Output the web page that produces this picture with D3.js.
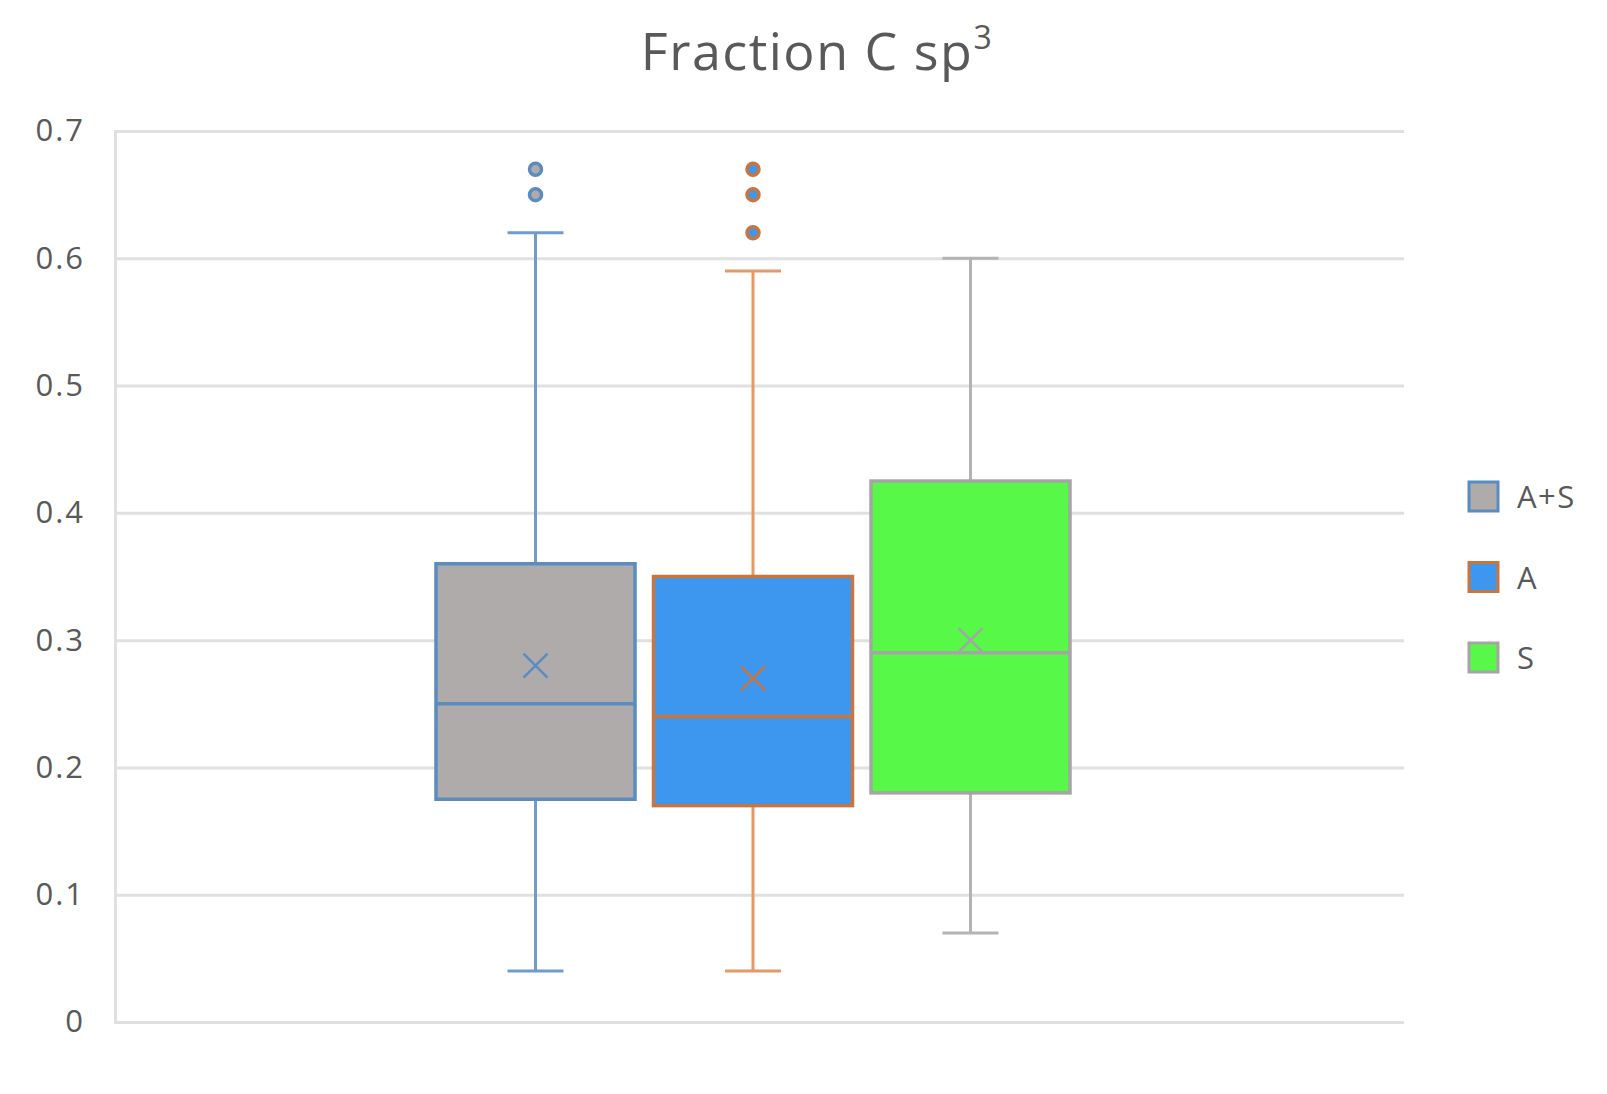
<!DOCTYPE html>
<html>
<head>
<meta charset="utf-8">
<title>Fraction C sp3</title>
<script src="https://d3js.org/d3.v7.min.js"></script>
<style>
  body { margin: 0; background: #fff; }
  text { font-family: "Open Sans", "Noto Sans", sans-serif; fill: #595959; }
</style>
</head>
<body>
<script>
// data
const series = ["A+S", "A", "S"];
const whiskerLow = [0.04, 0.04, 0.07];
const q1 = [0.175, 0.17, 0.18];
const median = [0.25, 0.24, 0.29];
const q3 = [0.36, 0.35, 0.425];
const whiskerHigh = [0.62, 0.59, 0.60];
const means = [0.28, 0.27, 0.30];
const outliers = [[0.67, 0.65], [0.67, 0.65, 0.62], []];
const yTicks = [0, 0.1, 0.2, 0.3, 0.4, 0.5, 0.6, 0.7];

const fills = ["#afabab", "#3d97ef", "#57f847"];
const strokes = ["#5b8cc0", "#c8753f", "#a5a5a5"];
const whiskerColors = ["#6f9dcb", "#e39a68", "#b3b3b3"];

const w = 1607, h = 1094;
const plotLeft = 115, plotRight = 1404, plotTop = 131, plotBottom = 1022;

const svg = d3.select("body").append("svg")
  .attr("width", w)
  .attr("height", h);

const y = d3.scaleLinear().domain([0, 0.7]).range([plotBottom, plotTop]);
const x = d3.scaleBand().domain(series).range([436, 1070]).paddingInner(0.085);

// title
const title = svg.append("text")
  .attr("x", 817)
  .attr("y", 70)
  .attr("text-anchor", "middle")
  .style("font-size", "52px")
  .style("letter-spacing", "1.5px");
title.append("tspan").text("Fraction C sp");
title.append("tspan").text("3").attr("dy", -21).style("font-size", "32px");

// grid
const yAxis = d3.axisLeft(y).tickValues(yTicks).tickSize(-(plotRight - plotLeft)).tickPadding(30)
  .tickFormat(d => d === 0 ? "0" : d3.format(".1f")(d));
const g = svg.append("g").attr("transform", "translate(" + plotLeft + ",0)").call(yAxis);
g.select(".domain").attr("stroke", "#e0e0e0").attr("stroke-width", 3);
g.selectAll(".tick line").attr("stroke", "#e0e0e0").attr("stroke-width", 3);
g.selectAll(".tick text").style("font-size", "31px").style("letter-spacing", "2px").attr("fill", "#595959");

const boxes = series.map((s, i) => ({
  s, i, lo: whiskerLow[i], q1: q1[i], med: median[i], q3: q3[i], hi: whiskerHigh[i], mean: means[i], out: outliers[i]
}));

const bw = x.bandwidth();
const grp = svg.selectAll(".box").data(boxes).enter().append("g").attr("class", "box");

// whiskers
grp.append("line")
  .attr("x1", d => x(d.s) + bw / 2).attr("x2", d => x(d.s) + bw / 2)
  .attr("y1", d => y(d.hi)).attr("y2", d => y(d.q3))
  .attr("stroke", d => whiskerColors[d.i]).attr("stroke-width", 3);
grp.append("line")
  .attr("x1", d => x(d.s) + bw / 2).attr("x2", d => x(d.s) + bw / 2)
  .attr("y1", d => y(d.q1)).attr("y2", d => y(d.lo))
  .attr("stroke", d => whiskerColors[d.i]).attr("stroke-width", 3);
grp.append("line")
  .attr("x1", d => x(d.s) + bw / 2 - 28).attr("x2", d => x(d.s) + bw / 2 + 28)
  .attr("y1", d => y(d.hi)).attr("y2", d => y(d.hi))
  .attr("stroke", d => whiskerColors[d.i]).attr("stroke-width", 3);
grp.append("line")
  .attr("x1", d => x(d.s) + bw / 2 - 28).attr("x2", d => x(d.s) + bw / 2 + 28)
  .attr("y1", d => y(d.lo)).attr("y2", d => y(d.lo))
  .attr("stroke", d => whiskerColors[d.i]).attr("stroke-width", 3);

// box
grp.append("rect")
  .attr("x", d => x(d.s)).attr("width", bw)
  .attr("y", d => y(d.q3)).attr("height", d => y(d.q1) - y(d.q3))
  .attr("fill", d => fills[d.i]).attr("stroke", d => strokes[d.i]).attr("stroke-width", 3.5);

// median
grp.append("line")
  .attr("x1", d => x(d.s)).attr("x2", d => x(d.s) + bw)
  .attr("y1", d => y(d.med)).attr("y2", d => y(d.med))
  .attr("stroke", d => strokes[d.i]).attr("stroke-width", 3.5);

// mean marker
const mk = 12;
grp.append("path")
  .attr("d", d => {
    const cx = x(d.s) + bw / 2, cy = y(d.mean);
    return "M" + (cx - mk) + "," + (cy - mk) + "L" + (cx + mk) + "," + (cy + mk) +
      "M" + (cx - mk) + "," + (cy + mk) + "L" + (cx + mk) + "," + (cy - mk);
  })
  .attr("stroke", d => strokes[d.i]).attr("stroke-width", 2.5).attr("fill", "none");

// outliers
grp.each(function (d) {
  d3.select(this).selectAll("circle").data(d.out).enter().append("circle")
    .attr("cx", x(d.s) + bw / 2)
    .attr("cy", v => y(v))
    .attr("r", 6)
    .attr("fill", fills[d.i])
    .attr("stroke", strokes[d.i])
    .attr("stroke-width", 3.5);
});

// legend
const legend = svg.selectAll(".legend").data(series).enter().append("g")
  .attr("class", "legend")
  .attr("transform", (d, i) => "translate(1469," + (482 + i * 80.5) + ")");
legend.append("rect")
  .attr("width", 29).attr("height", 29)
  .attr("fill", (d, i) => fills[i]).attr("stroke", (d, i) => strokes[i]).attr("stroke-width", 3);
legend.append("text")
  .attr("x", 48).attr("y", 26)
  .style("font-size", "31px")
  .style("letter-spacing", "1.5px")
  .text(d => d);
</script>
</body>
</html>
